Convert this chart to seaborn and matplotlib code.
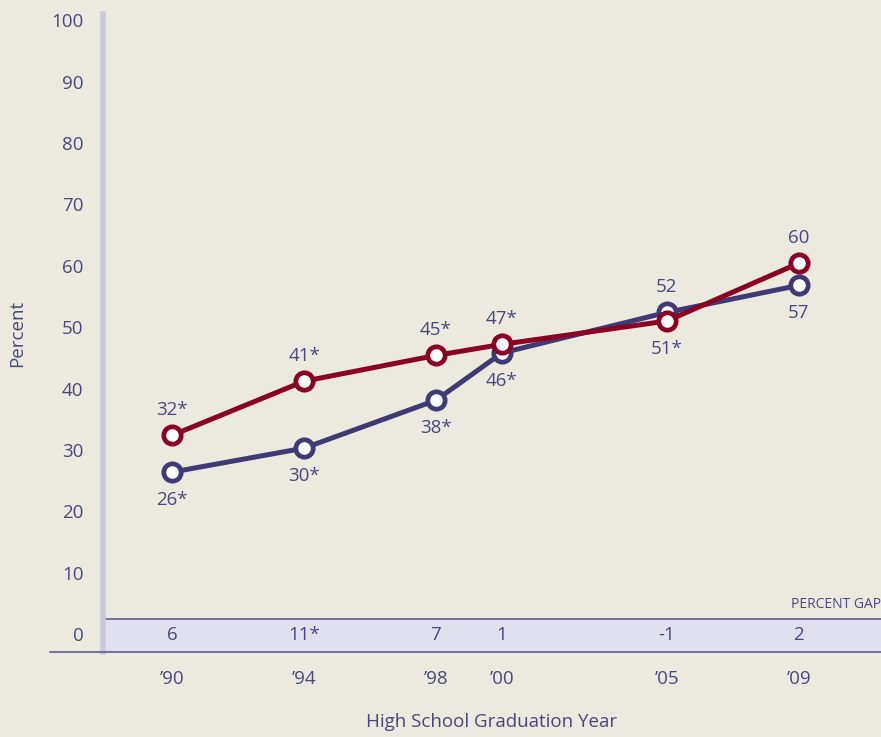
import matplotlib
matplotlib.use('Agg')
import matplotlib.pyplot as plt
import seaborn as sns
import pandas as pd

# valori
ani = [1990, 1994, 1998, 2000, 2005, 2009]
etichete_ani = ['\u201990', '\u201994', '\u201998', '\u201900', '\u201905', '\u201909']
rosu = [32.4, 41.2, 45.4, 47.2, 51.0, 60.4]
albastru = [26.4, 30.3, 38.1, 45.8, 52.4, 56.8]
et_rosu = ['32*', '41*', '45*', '47*', '51*', '60']
et_albastru = ['26*', '30*', '38*', '46*', '52', '57']
poz_rosu = ['sus', 'sus', 'sus', 'sus', 'jos', 'sus']
poz_albastru = ['jos', 'jos', 'jos', 'jos', 'sus', 'jos']
diferente = ['6', '11*', '7', '1', '-1', '2']

bd = pd.DataFrame({'an': ani * 2,
                   'valoare': rosu + albastru,
                   'serie': ['rosu'] * 6 + ['albastru'] * 6})

sns.set_style('white')
plt.rcParams['font.family'] = ['Open Sans', 'DejaVu Sans']

fundal = '#ECEADE'
mov = '#4A4682'
c_rosu = '#8A0024'
c_albastru = '#3E3A76'
fs = 13.5

fig = plt.figure(figsize=(8.81, 7.37), dpi=100, facecolor=fundal)
ax = fig.add_axes([103 / 881, 85 / 737, 778 / 881, 638 / 737])
ax.set_facecolor(fundal)
ax.set_xlim(1987.9, 2011.5)
ax.set_ylim(-2.9, 101)

# banda pentru diferente
ax.axhspan(-2.9, 2.4, color='#E1E0EE', zorder=0)
ax.axhline(2.4, color='#6A679A', lw=1.3, zorder=1)

sns.lineplot(data=bd, x='an', y='valoare', hue='serie',
             palette={'rosu': c_rosu, 'albastru': c_albastru},
             hue_order=['albastru', 'rosu'],
             lw=3.6, marker='o', markersize=12.5, markerfacecolor='white',
             markeredgewidth=3.4, legend=False, ax=ax, zorder=3)
for l in ax.lines:
    l.set_markeredgecolor(l.get_color())

for x, y, t, p in zip(ani, rosu, et_rosu, poz_rosu):
    dy = 18 if p == 'sus' else -20
    ax.annotate(t, (x, y), xytext=(0, dy), textcoords='offset points',
                ha='center', va='center', fontsize=fs, color=mov)
for x, y, t, p in zip(ani, albastru, et_albastru, poz_albastru):
    dy = 18 if p == 'sus' else -20
    ax.annotate(t, (x, y), xytext=(0, dy), textcoords='offset points',
                ha='center', va='center', fontsize=fs, color=mov)

for x, t in zip(ani, diferente):
    ax.text(x, -0.1, t, ha='center', va='center', fontsize=fs, color=mov)
ax.text(2011.5, 4.9, 'PERCENT GAP', ha='right', va='center', fontsize=10, color=mov)

ax.set_yticks(range(0, 101, 10))
ax.set_xticks(ani)
ax.set_xticklabels(etichete_ani)
ax.tick_params(axis='both', length=0, colors=mov, labelsize=fs)
ax.tick_params(axis='y', pad=14)
ax.tick_params(axis='x', pad=13)

for s in ['top', 'right', 'bottom']:
    ax.spines[s].set_visible(False)
ax.spines['left'].set_color('#C9C8DF')
ax.spines['left'].set_linewidth(4)

# linia de jos se intinde si sub eticheta 0
fig.add_artist(plt.Line2D([50 / 881, 1], [85 / 737, 85 / 737], color='#6A679A', lw=1.3))

ax.set_xlabel('High School Graduation Year', fontsize=fs, color=mov, labelpad=18)
ax.set_ylabel('Percent', fontsize=fs, color=mov, labelpad=18)

fig.savefig('out.png', dpi=100, facecolor=fundal)
